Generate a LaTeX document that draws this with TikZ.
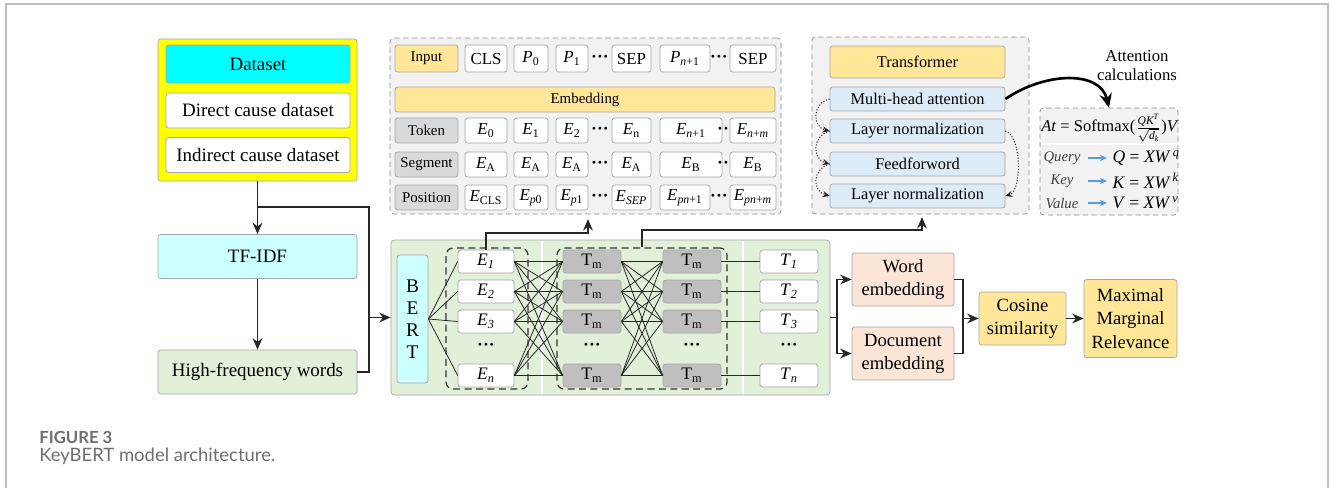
\documentclass[tikz,border=0pt]{standalone}
\usepackage{amsmath,amssymb}
\usepackage{fontspec}
\setmainfont{Liberation Serif}
\newfontfamily\capfont{Lato}
\usepackage{tikz}
\usetikzlibrary{arrows.meta}
\usepackage{xcolor}
\definecolor{dsyellow}{HTML}{FFFF00}
\definecolor{dscyan}{HTML}{00FFFF}
\definecolor{palecyan}{HTML}{CCFFFF}
\definecolor{palegreen}{HTML}{E2EFD9}
\definecolor{gold}{HTML}{FFE699}
\definecolor{labelgray}{HTML}{D9D9D9}
\definecolor{tmgray}{HTML}{BFBFBF}
\definecolor{paleblue}{HTML}{DDEBF7}
\definecolor{peach}{HTML}{FBE5D6}
\definecolor{panelgray}{HTML}{F2F2F2}
\definecolor{boxline}{HTML}{A6A6A6}
\definecolor{panelline}{HTML}{8C8C8C}
\definecolor{arrowgray}{HTML}{262626}
\definecolor{qkvblue}{HTML}{5B9BD5}
\definecolor{capgray}{HTML}{6E6E6E}
\definecolor{framegray}{HTML}{BDBDBD}
\newcommand{\esub}[1]{\textit{E}\textsubscript{#1}}
\newcommand{\rowdots}{\textbf{···}}
\tikzset{sz/.style 2 args={minimum width=#1*0.02cm,minimum height=#2*0.02cm}}

\begin{document}
\begin{tikzpicture}[x=0.02cm,y=-0.02cm]
  \tikzset{box/.style={draw=boxline,rounded corners=1.5pt,inner sep=0pt,align=center,font=\fontsize{10.8}{13}\selectfont}}
  \tikzset{cell/.style={box,fill=white,font=\fontsize{9.6}{11}\selectfont}}
  \tikzset{rowlabel/.style={box,fill=labelgray,font=\fontsize{8.5}{10}\selectfont}}
  \tikzset{layer/.style={box,fill=paleblue,font=\fontsize{9.3}{11}\selectfont}}
  \tikzset{tmcell/.style={box,fill=tmgray,font=\fontsize{10}{11}\selectfont}}
  \tikzset{sidebox/.style={box,font=\fontsize{10.6}{13.2}\selectfont}}
  \tikzset{dotsnode/.style={inner sep=0pt,font=\fontsize{10}{11}\selectfont}}
  \tikzset{panel/.style={draw=panelline,densely dashed,fill=panelgray,rounded corners=2pt,inner sep=0pt}}
  \tikzset{group/.style={draw=black!80,dash pattern=on 4pt off 2.5pt,line width=0.7pt,rounded corners=4pt,inner sep=0pt}}
  \tikzset{flow/.style={draw=arrowgray,line width=1.1pt,-{Stealth[length=6.5pt,width=5.5pt]}}}
  \tikzset{link/.style={draw=arrowgray,line width=1.1pt}}
  \tikzset{mesh/.style={draw=black!85,line width=0.45pt}}
  \tikzset{resid/.style={draw=black!85,densely dotted,line width=0.6pt,-{Stealth[length=4pt,width=3.5pt]}}}
  \tikzset{bigflow/.style={draw=black,line width=1.5pt,-{Stealth[length=8pt,width=7pt]}}}
  \tikzset{qkvlabel/.style={inner sep=0pt,minimum width=52*0.02cm,text=black!75,font=\fontsize{8.4}{10}\selectfont\itshape}}
  \tikzset{qkvform/.style={anchor=west,inner ysep=0pt,inner xsep=3pt,font=\fontsize{10}{12}\selectfont}}
  \tikzset{qarrow/.style={draw=qkvblue,line width=0.8pt,-{Stealth[length=4pt,width=3.5pt]}}}
  \useasboundingbox (0,0) rectangle (1330,488);
  \draw[framegray,line width=0.8pt] (6,488) -- (6,4) -- (1328,4) -- (1328,488);

  \node[box,sz={199}{142},fill=dsyellow] (src) at (257.5,110) {};
  \node[box,sz={184}{38},fill=dscyan] (dset) at (258,64) {Dataset};
  \node[box,sz={184}{35},fill=white] (direct) at (258,110.5) {Direct cause dataset};
  \node[box,sz={184}{35},fill=white] (indirect) at (258,155) {Indirect cause dataset};
  \node[box,sz={199}{44},fill=palecyan] (tfidf) at (257.5,256.5) {TF-IDF};
  \node[box,sz={199}{44},fill=palegreen] (hfw) at (257.5,372) {High-frequency words};

  \node[panel,sz={391}{176}] (embpanel) at (585.5,126) {};
  \node[rowlabel,sz={63}{27},fill=gold] (inlab) at (426.5,58.5) {Input};
  \node[cell,sz={42}{27}] (in1) at (486,58.5) {CLS};
  \node[cell,sz={34}{27}] (in2) at (531,58.5) {\textit{P}\textsubscript{0}};
  \node[cell,sz={32}{27}] (in3) at (572,58.5) {\textit{P}\textsubscript{1}};
  \node[dotsnode] (indotsA) at (600,58.5) {\rowdots};
  \node[cell,sz={39}{27}] (in4) at (631.5,58.5) {SEP};
  \node[cell,sz={50}{27}] (in5) at (685,58.5) {\textit{P}\textsubscript{\textit{n}+1}};
  \node[dotsnode] (indotsB) at (719,58.5) {\rowdots};
  \node[cell,sz={46}{27}] (in6) at (753,58.5) {SEP};
  \node[rowlabel,sz={380}{25},fill=gold] (embbar) at (585,99.5) {Embedding};
  \node[rowlabel,sz={63}{25}] (toklab) at (426.5,130.5) {Token};
  \node[cell,sz={42}{25}] (tok1) at (486,130.5) {\esub{0}};
  \node[cell,sz={34}{25}] (tok2) at (531,130.5) {\esub{1}};
  \node[cell,sz={32}{25}] (tok3) at (572,130.5) {\esub{2}};
  \node[dotsnode] (tokdotsA) at (600,130.5) {\rowdots};
  \node[cell,sz={39}{25}] (tok4) at (631.5,130.5) {\esub{n}};
  \node[cell,sz={62}{25}] (tok5) at (691,130.5) {\esub{\textit{n}+1}};
  \node[dotsnode] (tokdotsB) at (726,130.5) {\rowdots};
  \node[cell,sz={46}{25}] (tok6) at (753,130.5) {\esub{\textit{n}+\textit{m}}};
  \node[rowlabel,sz={63}{25}] (seglab) at (426.5,164.5) {Segment};
  \node[cell,sz={42}{25}] (seg1) at (486,164.5) {\esub{A}};
  \node[cell,sz={34}{25}] (seg2) at (531,164.5) {\esub{A}};
  \node[cell,sz={32}{25}] (seg3) at (572,164.5) {\esub{A}};
  \node[dotsnode] (segdotsA) at (600,164.5) {\rowdots};
  \node[cell,sz={39}{25}] (seg4) at (631.5,164.5) {\esub{A}};
  \node[cell,sz={62}{25}] (seg5) at (691,164.5) {\esub{B}};
  \node[dotsnode] (segdotsB) at (726,164.5) {\rowdots};
  \node[cell,sz={46}{25}] (seg6) at (753,164.5) {\esub{B}};
  \node[rowlabel,sz={63}{25}] (poslab) at (426.5,197.5) {Position};
  \node[cell,sz={42}{25}] (pos1) at (486,197.5) {\esub{CLS}};
  \node[cell,sz={34}{25}] (pos2) at (531,197.5) {\esub{\textit{p}0}};
  \node[cell,sz={32}{25}] (pos3) at (572,197.5) {\esub{\textit{p}1}};
  \node[dotsnode] (posdotsA) at (600,197.5) {\rowdots};
  \node[cell,sz={39}{25}] (pos4) at (631.5,197.5) {\esub{\textit{SEP}}};
  \node[cell,sz={50}{25}] (pos5) at (685,197.5) {\esub{\textit{pn}+1}};
  \node[dotsnode] (posdotsB) at (719,197.5) {\rowdots};
  \node[cell,sz={46}{25}] (pos6) at (753,197.5) {\esub{\textit{pn}+\textit{m}}};

  \node[panel,sz={217}{177}] (trfpanel) at (920.5,125.5) {};
  \node[layer,sz={175}{32},fill=gold] (trf) at (917.5,62) {Transformer};
  \node[layer,sz={175}{24}] (mha) at (917.5,99) {Multi-head attention};
  \node[layer,sz={175}{24}] (ln1) at (917.5,131) {Layer normalization};
  \node[layer,sz={175}{24}] (ffn) at (917.5,164) {Feedforword};
  \node[layer,sz={175}{24}] (ln2) at (917.5,196) {Layer normalization};
  \draw[resid] (mha.west) .. controls (812,103) and (812,127) .. (ln1.west);
  \draw[resid] (ln1.west) .. controls (812,136) and (812,159) .. (ffn.west);
  \draw[resid] (ffn.west) .. controls (812,169) and (812,191) .. (ln2.west);
  \draw[resid] (ln1.east) .. controls (1022,136) and (1022,191) .. (ln2.east);

  \node[font=\fontsize{9.5}{10.8}\selectfont,align=center,inner sep=0pt] (attnlab) at (1137,65.5) {Attention\\calculations};
  \node[panel,sz={138}{107}] (attnbox) at (1109,161.5) {};
  \draw[white,line width=1pt] (1041,144) -- (1177,144);
  \node[inner sep=0pt,font=\fontsize{9.4}{11}\selectfont] (attnf) at (1110,128) {\textit{At} = Softmax($\frac{\textit{QK}^{\textit{T}}}{\sqrt{\textit{d}_{\textit{k}}}}$)\textit{V}};
  \node[qkvlabel] (qlab) at (1062,158) {Query};
  \node[qkvlabel] (klab) at (1062,181) {Key};
  \node[qkvlabel] (vlab) at (1062,203) {Value};
  \node[qkvform] (qform) at (1107,158) {\textit{Q} = \textit{XW}\textsuperscript{\,\textit{q}}};
  \node[qkvform] (kform) at (1107,181) {\textit{K} = \textit{XW}\textsuperscript{\,\textit{k}}};
  \node[qkvform] (vform) at (1107,203) {\textit{V} = \textit{XW}\textsuperscript{\,\textit{v}}};
  \draw[qarrow] (qlab) -- (qform);
  \draw[qarrow] (klab) -- (kform);
  \draw[qarrow] (vlab) -- (vform);
  \draw[bigflow] (mha.east) .. controls (1045,72) and (1100,70) .. (attnbox.north);

  \node[box,sz={439}{155},fill=palegreen,rounded corners=2pt] (bertpanel) at (610.5,317.5) {};
  \draw[white,line width=1pt] (542,241) -- (542,394);
  \draw[white,line width=1pt] (743,241) -- (743,394);
  \node[box,sz={31}{128},fill=palecyan,font=\fontsize{11}{12.5}\selectfont] (bert) at (412.5,319) {B\\E\\R\\T};
  \node[group,sz={82}{141}] (eframe) at (487,318.5) {};
  \node[group,sz={170}{141}] (tmframe) at (642,318.5) {};
  \node[cell,sz={56}{23},font=\fontsize{10}{11}\selectfont] (e1) at (486,261.5) {\esub{\textit{1}}};
  \node[cell,sz={56}{23},font=\fontsize{10}{11}\selectfont] (e2) at (486,291.5) {\esub{\textit{2}}};
  \node[cell,sz={56}{23},font=\fontsize{10}{11}\selectfont] (e3) at (486,321.5) {\esub{\textit{3}}};
  \node[dotsnode] (edots) at (486,347) {\rowdots};
  \node[cell,sz={56}{23},font=\fontsize{10}{11}\selectfont] (en) at (486,375.5) {\esub{\textit{n}}};
  \node[tmcell,sz={58}{23}] (ta1) at (592,261.5) {T\textsubscript{m}};
  \node[tmcell,sz={58}{23}] (ta2) at (592,291.5) {T\textsubscript{m}};
  \node[tmcell,sz={58}{23}] (ta3) at (592,321.5) {T\textsubscript{m}};
  \node[dotsnode] (tadots) at (592,347) {\rowdots};
  \node[tmcell,sz={58}{23}] (tan) at (592,375.5) {T\textsubscript{m}};
  \node[tmcell,sz={58}{23}] (tb1) at (692,261.5) {T\textsubscript{m}};
  \node[tmcell,sz={58}{23}] (tb2) at (692,291.5) {T\textsubscript{m}};
  \node[tmcell,sz={58}{23}] (tb3) at (692,321.5) {T\textsubscript{m}};
  \node[dotsnode] (tbdots) at (692,347) {\rowdots};
  \node[tmcell,sz={58}{23}] (tbn) at (692,375.5) {T\textsubscript{m}};
  \node[cell,sz={58}{23},font=\fontsize{10}{11}\selectfont] (t1) at (789,261.5) {\textit{T}\textsubscript{\textit{1}}};
  \node[cell,sz={58}{23},font=\fontsize{10}{11}\selectfont] (t2) at (789,291.5) {\textit{T}\textsubscript{\textit{2}}};
  \node[cell,sz={58}{23},font=\fontsize{10}{11}\selectfont] (t3) at (789,321.5) {\textit{T}\textsubscript{\textit{3}}};
  \node[dotsnode] (tdots) at (789,347) {\rowdots};
  \node[cell,sz={58}{23},font=\fontsize{10}{11}\selectfont] (tn) at (789,375.5) {\textit{T}\textsubscript{\textit{n}}};
  \foreach \a in {1,2,3,n} {
    \draw[mesh] (bert.east) -- (e\a.west);
    \foreach \b in {1,2,3,n} {
      \draw[mesh] (e\a.east) -- (ta\b.west);
      \draw[mesh] (ta\a.east) -- (tb\b.west);
    }
    \draw[mesh] (tb\a.east) -- (t\a.west);
  }

  \node[sidebox,sz={102}{53},fill=peach] (wordemb) at (903,279.5) {Word\\embedding};
  \node[sidebox,sz={102}{53},fill=peach] (docemb) at (903,353.5) {Document\\embedding};
  \node[sidebox,sz={87}{53},fill=gold] (cosine) at (1022.5,318.5) {Cosine\\similarity};
  \node[sidebox,sz={93}{78},fill=gold] (mmr) at (1130.5,318.5) {Maximal\\Marginal\\Relevance};

  \coordinate (split) at (257.5,207);
  \coordinate (join) at (369,317.5);
  \coordinate (embbend) at (588,233);
  \coordinate (embin) at (588,219);
  \coordinate (trfbend) at (922,230);
  \coordinate (trfin) at (922,217);
  \coordinate (outsplit) at (837,317.5);
  \coordinate (merge) at (963,318.5);
  \draw[flow] (src.south) -- (tfidf.north);
  \draw[flow] (tfidf) -- (hfw);
  \draw[link] (split) -| (join);
  \draw[link] (hfw.east) -| (join);
  \draw[flow] (join) -- (bertpanel.west);
  \draw[flow] (e1.north) |- (embbend) -- (embin);
  \draw[flow] (tmframe.north) |- (trfbend) -- (trfin);
  \draw[link] (bertpanel.east) -- (outsplit);
  \draw[flow] (outsplit) |- (wordemb.west);
  \draw[flow] (outsplit) |- (docemb.west);
  \draw[link] (wordemb.east) -| (merge);
  \draw[link] (docemb.east) -| (merge);
  \draw[flow] (merge) -- (cosine.west);
  \draw[flow] (cosine) -- (mmr);

  \node[anchor=west,inner sep=0pt,text=capgray,font=\capfont\fontsize{9.5}{11}\selectfont\bfseries] (fignum) at (39,437) {FIGURE 3};
  \node[anchor=west,inner sep=0pt,text=capgray,font=\capfont\fontsize{10.5}{12}\selectfont] (figcap) at (39,456) {KeyBERT model architecture.};
\end{tikzpicture}
\end{document}
